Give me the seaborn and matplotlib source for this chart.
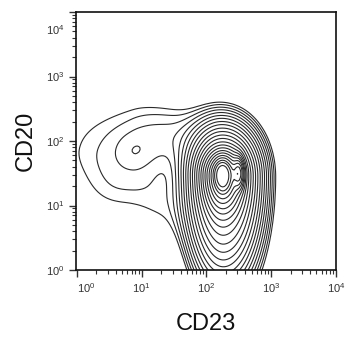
import numpy as np
import pandas as pd
import matplotlib
matplotlib.use("Agg")
import matplotlib.pyplot as plt
import matplotlib.transforms as mtransforms
from matplotlib.ticker import LogLocator
import seaborn as sns

# Cell populations on log10 scales: CD23 (x) and CD20 (y).
# Each is a split-normal blob: separate spreads left/right and below/above its centre.
populations   = ["main core", "main mid", "main broad", "right spot",
                 "CD23lo shoulder", "shoulder core", "shoulder tail",
                 "bridge", "lower tail"]
center_cd23   = [2.25, 2.25, 2.26, 2.50, 0.86, 0.86, 0.60, 1.60, 1.35]
center_cd20   = [1.47, 1.47, 1.45, 1.50, 1.88, 1.83, 1.15, 2.10, 0.90]
spread_left   = [0.07, 0.15, 0.28, 0.04, 1.00, 0.18, 0.45, 0.45, 0.30]
spread_right  = [0.07, 0.16, 0.30, 0.04, 0.50, 0.18, 0.45, 0.40, 0.30]
spread_below  = [0.14, 0.30, 0.80, 0.13, 0.50, 0.18, 0.35, 0.30, 0.40]
spread_above  = [0.13, 0.20, 0.42, 0.13, 0.62, 0.18, 0.35, 0.35, 0.40]
peak_height   = [0.50, 0.35, 0.15, 0.35, 0.0055, 0.0015, 0.0026, 0.0045, 0.0028]

# Contour levels as density relative to the main peak (log spaced)
contour_density = 0.004 * 1.26 ** np.arange(23)

decade_ticks = [1, 10, 100, 1000, 10000]

# Population density on a log-spaced grid, used as KDE weights
gx = np.arange(-0.6, 4.01, 0.025)
gy = np.arange(-1.4, 4.01, 0.025)
GX, GY = np.meshgrid(gx, gy)
dens = np.zeros_like(GX)
for cx, cy, sl, sr, sb, sa, h in zip(center_cd23, center_cd20, spread_left, spread_right,
                                     spread_below, spread_above, peak_height):
    sx = np.where(GX < cx, sl, sr)
    sy = np.where(GY < cy, sb, sa)
    dens += h * np.exp(-0.5 * (((GX - cx) / sx) ** 2 + ((GY - cy) / sy) ** 2))
dens /= dens.max()

# Convert density thresholds into seaborn's iso-proportion levels
total = dens.sum()
iso_levels = [dens[dens < t].sum() / total for t in contour_density]

keep = dens > 2e-4
cells = pd.DataFrame({"CD23": 10 ** GX[keep], "CD20": 10 ** GY[keep], "w": dens[keep]})

sns.set_style("ticks")
plt.rcParams["font.family"] = ["Liberation Sans", "DejaVu Sans"]

fig = plt.figure(figsize=(3.52, 3.37), dpi=100)
ax = fig.add_axes([76 / 352, 1 - 270 / 337, 260 / 352, 258 / 337])

sns.kdeplot(data=cells, x="CD23", y="CD20", weights="w", log_scale=True,
            levels=iso_levels, bw_adjust=0.2, gridsize=160, cut=1,
            color="#2a2a2a", linewidths=0.8, ax=ax)

ax.set_xlim(0.97, 1e4)
ax.set_ylim(1, 1e4)
ax.set_xticks(decade_ticks)
ax.set_yticks(decade_ticks)
ax.xaxis.set_minor_locator(LogLocator(base=10, subs=np.arange(2, 10)))
ax.yaxis.set_minor_locator(LogLocator(base=10, subs=np.arange(2, 10)))
ax.tick_params(which="major", length=5, width=1, labelsize=8, colors="#333333", pad=3)
ax.tick_params(which="minor", length=3, width=0.8, colors="#333333")
for sp in ax.spines.values():
    sp.set_linewidth(1.2)
    sp.set_color("#111111")

ax.set_xlabel("CD23", fontsize=17, labelpad=13, color="#111111")
ax.set_ylabel("CD20", fontsize=17, labelpad=7, color="#111111")

fig.canvas.draw()
ylabels = ax.get_yticklabels()
ylabels[-1].set_transform(ylabels[-1].get_transform()
                          + mtransforms.ScaledTranslation(0, -0.17, fig.dpi_scale_trans))
xlabels = ax.get_xticklabels()
xlabels[0].set_transform(xlabels[0].get_transform()
                         + mtransforms.ScaledTranslation(0.09, 0, fig.dpi_scale_trans))

fig.savefig("out.png", dpi=100, facecolor="white")
